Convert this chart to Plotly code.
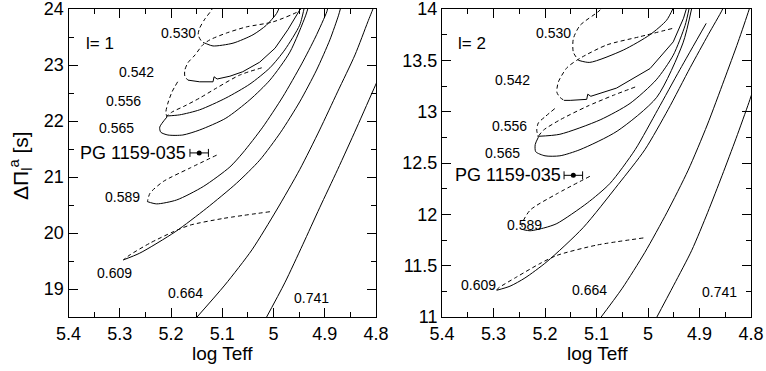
import plotly.graph_objects as go

# (log Teff, Delta Pi) points, l = 1 panel
l1_530_dash = [(5.118, 24.05), (5.121, 23.98), (5.134, 23.82), (5.144, 23.66), (5.147, 23.54), (5.140, 23.42), (5.131, 23.38)]
l1_530_solid = [(5.131, 23.38), (5.118, 23.34), (5.079, 23.39), (5.040, 23.54), (5.014, 23.71), (4.994, 23.92), (4.988, 24.04)]
l1_542_dash = [(4.945, 24.02), (4.951, 23.96), (5.001, 23.77), (5.053, 23.68), (5.092, 23.57), (5.124, 23.45), (5.138, 23.36),
               (5.153, 23.18), (5.167, 23.04), (5.173, 22.91), (5.173, 22.80), (5.167, 22.73)]
l1_542_solid = [(5.167, 22.73), (5.144, 22.70), (5.118, 22.70), (5.116, 22.79), (5.110, 22.75), (5.085, 22.80), (5.060, 22.88),
                (5.027, 23.05), (4.997, 23.30), (4.972, 23.63), (4.949, 23.98), (4.945, 24.05)]
l1_556_dash = [(5.023, 22.95), (5.066, 22.82), (5.111, 22.59), (5.144, 22.41), (5.173, 22.27), (5.198, 22.16), (5.208, 22.09)]
l1_556_solid = [(5.208, 22.09), (5.183, 22.11), (5.144, 22.20), (5.093, 22.41), (5.046, 22.66), (5.007, 22.95), (4.978, 23.27),
                (4.949, 23.71), (4.941, 23.98), (4.939, 24.07)]
l1_565_dash = [(5.187, 22.70), (5.198, 22.52), (5.206, 22.32), (5.210, 22.16), (5.208, 22.07)]
l1_565_solid = [(5.208, 22.07), (5.222, 21.89), (5.220, 21.80), (5.206, 21.75), (5.177, 21.75), (5.144, 21.84), (5.093, 22.05),
                (5.046, 22.38), (5.007, 22.73), (4.968, 23.23), (4.937, 23.89), (4.931, 24.07)]
l1_589_dash = [(5.111, 21.39), (5.163, 21.16), (5.215, 20.92), (5.241, 20.71), (5.246, 20.56)]
l1_589_solid = [(5.246, 20.56), (5.228, 20.52), (5.189, 20.59), (5.137, 20.83), (5.085, 21.18), (5.060, 21.43), (5.021, 21.89),
                (4.982, 22.43), (4.945, 23.02), (4.918, 23.50), (4.896, 23.95), (4.894, 24.02)]
l1_609_dash = [(5.007, 20.38), (5.098, 20.26), (5.163, 20.14), (5.196, 20.02), (5.241, 19.82), (5.280, 19.61), (5.293, 19.52)]
l1_609_solid = [(5.293, 19.52), (5.261, 19.64), (5.192, 20.02), (5.131, 20.44), (5.072, 20.89), (5.027, 21.30), (4.986, 21.80),
                (4.949, 22.34), (4.916, 22.91), (4.890, 23.45), (4.873, 23.89), (4.869, 24.02)]
l1_664 = [(5.155, 18.44), (5.095, 19.07), (5.042, 19.70), (4.994, 20.41), (4.949, 21.13), (4.910, 21.84),
          (4.875, 22.52), (4.841, 23.18), (4.816, 23.77), (4.806, 24.0), (4.804, 24.05)]
l1_741 = [(5.017, 18.44), (4.978, 19.11), (4.943, 19.79), (4.910, 20.45), (4.875, 21.13), (4.838, 21.875),
          (4.801, 22.64), (4.79, 22.86)]

# l = 2 panel
l2_530_dash = [(5.085, 14.05), (5.093, 13.99), (5.132, 13.84), (5.145, 13.71), (5.145, 13.58), (5.135, 13.50)]
l2_530_solid = [(5.135, 13.50), (5.113, 13.48), (5.048, 13.60), (4.996, 13.75), (4.964, 13.89), (4.951, 14.01)]
l2_542_dash = [(4.953, 13.81), (5.016, 13.73), (5.080, 13.65), (5.132, 13.52), (5.157, 13.43), (5.174, 13.29), (5.177, 13.19),
               (5.171, 13.14), (5.163, 13.11)]
l2_542_solid = [(5.163, 13.11), (5.151, 13.11), (5.119, 13.12), (5.117, 13.17), (5.111, 13.15), (5.061, 13.23), (4.996, 13.42),
                (4.951, 13.68), (4.931, 13.91), (4.925, 14.01)]
l2_556_dash = [(5.025, 13.24), (5.067, 13.16), (5.119, 13.05), (5.171, 12.92), (5.203, 12.82), (5.213, 12.76)]
l2_556_solid = [(5.213, 12.76), (5.171, 12.78), (5.093, 12.92), (5.035, 13.08), (4.984, 13.31), (4.951, 13.55), (4.928, 13.84),
                (4.920, 14.01)]
l2_565_dash = [(5.181, 13.03), (5.200, 12.95), (5.213, 12.89), (5.216, 12.82), (5.213, 12.75)]
l2_565_solid = [(5.213, 12.75), (5.219, 12.68), (5.218, 12.61), (5.200, 12.57), (5.171, 12.57), (5.132, 12.63), (5.060, 12.81),
                (4.983, 13.14), (4.932, 13.67), (4.915, 14.01)]
l2_589_dash = [(5.113, 12.37), (5.177, 12.20), (5.229, 12.04), (5.245, 11.90), (5.242, 11.85)]
l2_589_solid = [(5.242, 11.85), (5.229, 11.84), (5.200, 11.87), (5.177, 11.91), (5.118, 12.11), (5.074, 12.30), (5.025, 12.63),
                (4.981, 13.02), (4.938, 13.41), (4.887, 13.86)]
l2_609_dash = [(5.009, 11.77), (5.100, 11.70), (5.177, 11.60), (5.210, 11.52), (5.255, 11.39), (5.291, 11.28), (5.294, 11.26)]
l2_609_solid = [(5.294, 11.26), (5.268, 11.30), (5.239, 11.38), (5.196, 11.54), (5.126, 11.87), (5.058, 12.29), (5.006, 12.63),
                (4.961, 13.02), (4.918, 13.43), (4.883, 13.75), (4.856, 13.99), (4.852, 14.04)]
l2_664 = [(5.097, 10.96), (5.050, 11.28), (5.006, 11.63), (4.963, 12.02), (4.922, 12.43), (4.885, 12.87),
          (4.852, 13.31), (4.825, 13.68), (4.804, 13.99), (4.798, 14.09)]
l2_741 = [(4.987, 10.96), (4.950, 11.31), (4.915, 11.65), (4.884, 12.02), (4.856, 12.38), (4.829, 12.74),
          (4.804, 13.09), (4.792, 13.27)]

# PG 1159-035: log Teff, error, Delta Pi
pg_teff = 5.145
pg_teff_err = 0.018
pg_dp = [21.43, 12.38]

# curve labels: (text, log Teff, Delta Pi)
l1_labels = [("0.530", 5.186, 23.57), ("0.542", 5.268, 22.88), ("0.556", 5.292, 22.36), ("0.565", 5.307, 21.88),
             ("0.589", 5.294, 20.64), ("0.609", 5.311, 19.29), ("0.664", 5.171, 18.93), ("0.741", 4.925, 18.84)]
l2_labels = [("0.530", 5.183, 13.77), ("0.542", 5.264, 13.31), ("0.556", 5.268, 12.86), ("0.565", 5.282, 12.60),
             ("0.589", 5.239, 11.90), ("0.609", 5.330, 11.31), ("0.664", 5.113, 11.26), ("0.741", 4.862, 11.24)]

x_ticks = [5.4, 5.3, 5.2, 5.1, 5.0, 4.9, 4.8]
x_ticktext = ["5.4", "5.3", "5.2", "5.1", "5", "4.9", "4.8"]
y1_ticks = [19, 20, 21, 22, 23, 24]
y2_ticks = [11, 11.5, 12, 12.5, 13, 13.5, 14]

FONT = "Liberation Sans, Arial, sans-serif"
W, H = 766, 371


def px_x(p):
    return p / W


def px_y(p):
    return 1 - p / H


fig = go.Figure()


def add_line(pts, dashed, xa, ya, smooth=True):
    fig.add_trace(go.Scatter(
        x=[p[0] for p in pts], y=[p[1] for p in pts], mode="lines",
        line=dict(color="black", width=1, dash="4px,3px" if dashed else "solid",
                  shape="spline" if smooth else "linear", smoothing=0.7),
        xaxis=xa, yaxis=ya, showlegend=False, hoverinfo="skip",
    ))


for xa, ya, dashes, solids in [
    ("x", "y",
     [l1_530_dash, l1_542_dash, l1_556_dash, l1_565_dash, l1_589_dash, l1_609_dash],
     [l1_530_solid, l1_556_solid, l1_565_solid, l1_589_solid, l1_609_solid, l1_664, l1_741]),
    ("x2", "y2",
     [l2_530_dash, l2_542_dash, l2_556_dash, l2_565_dash, l2_589_dash, l2_609_dash],
     [l2_530_solid, l2_556_solid, l2_565_solid, l2_589_solid, l2_609_solid, l2_664, l2_741]),
]:
    for d in dashes:
        add_line(d, True, xa, ya)
    for s in solids:
        add_line(s, False, xa, ya)

# the 0.542 tracks have a small notch, keep them unsmoothed
add_line(l1_542_solid, False, "x", "y", smooth=False)
add_line(l2_542_solid, False, "x2", "y2", smooth=False)

# observed star with error bar
for xa, ya, dp in [("x", "y", pg_dp[0]), ("x2", "y2", pg_dp[1])]:
    fig.add_trace(go.Scatter(
        x=[pg_teff], y=[dp], mode="markers",
        marker=dict(color="black", size=5),
        error_x=dict(type="constant", value=pg_teff_err, color="black", thickness=1, width=4),
        xaxis=xa, yaxis=ya, showlegend=False, hoverinfo="skip",
    ))

annotations = []
for xr, yr, labels in [("x", "y", l1_labels), ("x2", "y2", l2_labels)]:
    for text, lx, ly in labels:
        annotations.append(dict(x=lx, y=ly, xref=xr, yref=yr, text=text, showarrow=False,
                                font=dict(size=14, family=FONT, color="black")))

annotations += [
    dict(x=5.339, y=23.38, xref="x", yref="y", text="l= 1", showarrow=False,
         font=dict(size=17, family=FONT, color="black")),
    dict(x=5.342, y=13.66, xref="x2", yref="y2", text="l= 2", showarrow=False,
         font=dict(size=17, family=FONT, color="black")),
    dict(x=5.166, y=pg_dp[0], xref="x", yref="y", text="PG 1159-035", showarrow=False, xanchor="right",
         font=dict(size=18, family=FONT, color="black")),
    dict(x=5.166, y=pg_dp[1], xref="x2", yref="y2", text="PG 1159-035", showarrow=False, xanchor="right",
         font=dict(size=18, family=FONT, color="black")),
    dict(x=px_x(20), y=px_y(166), xref="paper", yref="paper", xanchor="center", yanchor="middle",
         text="ΔΠ<sub>l</sub><sup>a</sup> [s]", textangle=-90, showarrow=False,
         font=dict(size=21, family=FONT, color="black")),
    dict(x=px_x(222), y=px_y(353), xref="paper", yref="paper", xanchor="center", yanchor="middle",
         text="log Teff", showarrow=False, font=dict(size=19, family=FONT, color="black")),
    dict(x=px_x(597), y=px_y(353), xref="paper", yref="paper", xanchor="center", yanchor="middle",
         text="log Teff", showarrow=False, font=dict(size=19, family=FONT, color="black")),
]

axis_common = dict(
    showline=True, linecolor="black", linewidth=1, mirror="ticks", ticks="inside",
    ticklen=9, tickcolor="black", tickwidth=1, showgrid=False, zeroline=False, automargin=False,
    ticklabeloverflow="allow",
    tickfont=dict(size=18, family=FONT, color="black"),
)
xaxis_common = dict(axis_common, range=[5.4, 4.8], tickvals=x_ticks, ticktext=x_ticktext,
                    minor=dict(dtick=0.05, tick0=4.8, ticks="inside", ticklen=5, tickcolor="black"))
ydom = [px_y(317), px_y(9)]

fig.update_layout(
    width=W, height=H,
    margin=dict(l=0, r=0, t=0, b=0, autoexpand=False),
    paper_bgcolor="white", plot_bgcolor="white",
    font=dict(family=FONT, color="black"),
    xaxis=dict(xaxis_common, domain=[px_x(68.5), px_x(376)], anchor="y"),
    xaxis2=dict(xaxis_common, domain=[px_x(442), px_x(751)], anchor="y2"),
    yaxis=dict(axis_common, range=[18.5, 24], tickvals=y1_ticks, domain=ydom, anchor="x",
               minor=dict(dtick=0.5, tick0=18.5, ticks="inside", ticklen=5, tickcolor="black")),
    yaxis2=dict(axis_common, range=[11, 14], tickvals=y2_ticks, domain=ydom, anchor="x2",
                minor=dict(dtick=0.25, tick0=11, ticks="inside", ticklen=5, tickcolor="black")),
    annotations=annotations,
)

# drop the page's default body margin so the figure sits at the window corner
fig.write_html("out.html", config={"displayModeBar": False},
               post_script="document.body.style.margin = '0';")
